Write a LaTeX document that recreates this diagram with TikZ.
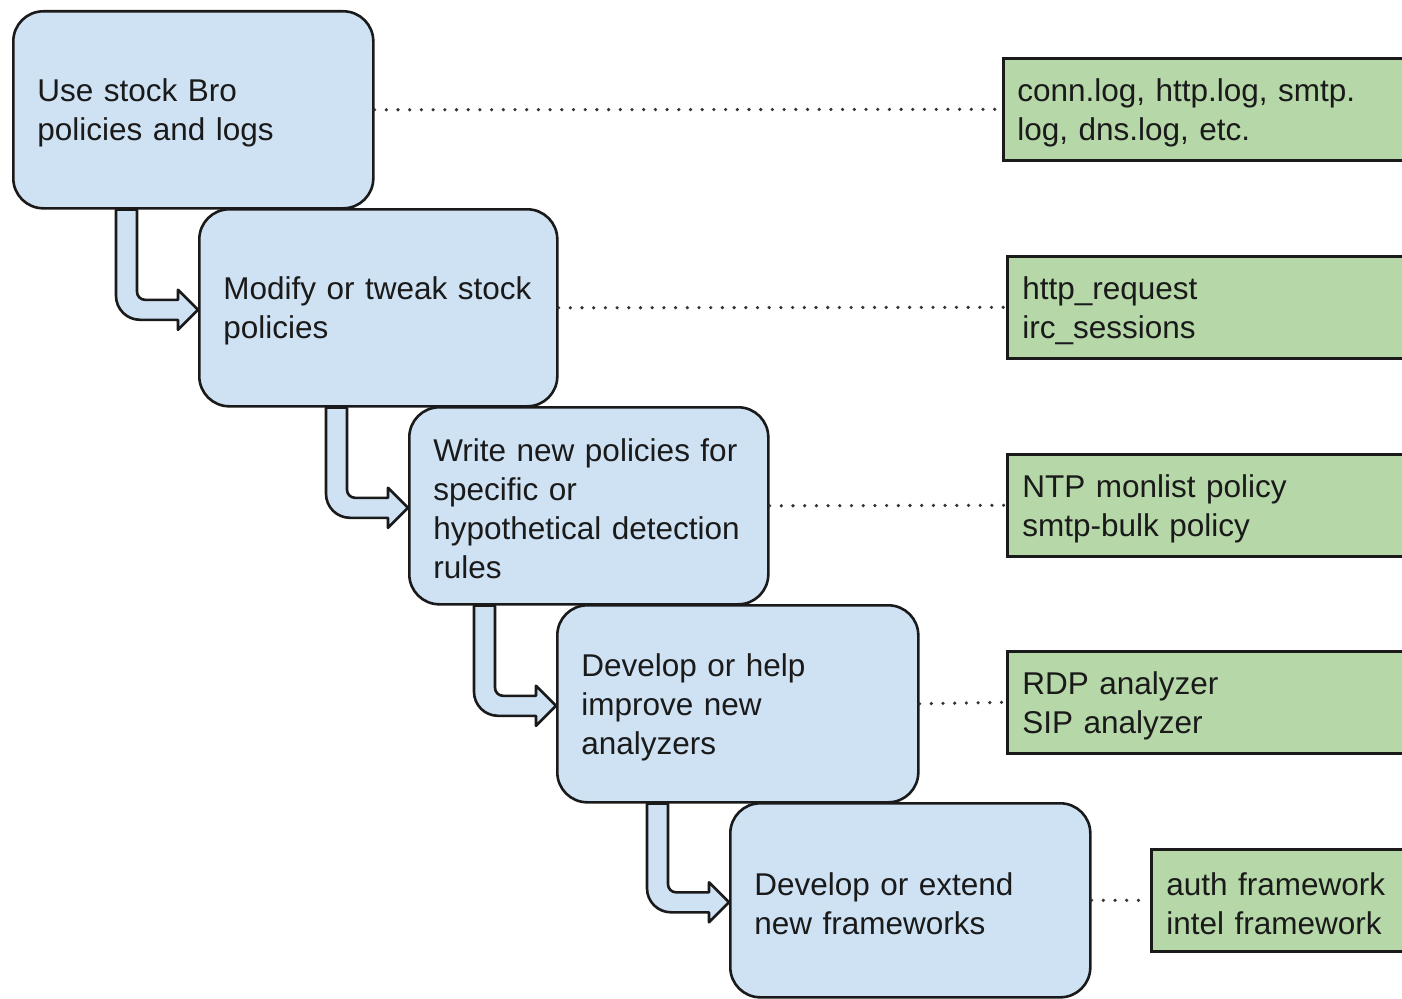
\documentclass[tikz,border=0pt]{standalone}
\usepackage{fontspec}
\setmainfont{Liberation Sans}
\usetikzlibrary{calc}
\definecolor{stepblue}{HTML}{CFE2F3}
\definecolor{exgreen}{HTML}{B6D7A8}
\definecolor{dotgray}{HTML}{333333}
\definecolor{inkblack}{HTML}{1A1A1A}
\tikzset{
  stepbox/.style={draw=inkblack, line width=2.6pt, fill=stepblue, rounded corners=30pt,
    anchor=north west, align=left, inner xsep=24pt, inner ysep=0pt, minimum height=197pt,
    font=\fontsize{31.5}{39}\selectfont, text=inkblack,
    execute at begin node={\rule{0pt}{29pt}}},
  exbox/.style={draw=inkblack, line width=2.6pt, fill=exgreen, anchor=north west,
    align=left, inner xsep=15pt, inner ysep=0pt, minimum height=102pt, text width=380pt,
    font=\fontsize{31.5}{39}\selectfont, text=inkblack,
    execute at begin node={\rule{0pt}{29pt}}},
  dotline/.style={dotgray, line width=3.6pt, line cap=round, dash pattern=on 0pt off 11.7pt},
  bentarrow/.style={draw=inkblack, line width=2.6pt, fill=stepblue, line join=round}
}
\newcommand\bentarr[2]{%
  \path[bentarrow] let \p1=(#1.south), \p2=(#2.west) in
    (\x2-61pt,\y1) -- (\x2-61pt,\y2-2pt+10pt+8pt)
    arc[start angle=180,end angle=270,radius=8pt]
    -- (\x2-20pt,\y2-2pt+10pt) -- (\x2-20pt,\y2-2pt+20pt) -- (\x2,\y2-2pt)
    -- (\x2-20pt,\y2-2pt-20pt) -- (\x2-20pt,\y2-2pt-10pt)
    -- (\x2-82pt+24pt,\y2-2pt-10pt)
    arc[start angle=270,end angle=180,radius=24pt]
    -- (\x2-82pt,\y1) -- cycle;}
\begin{document}
\begin{tikzpicture}[x=1pt,y=-1pt]
\useasboundingbox (0,0) rectangle (1402,998);
\clip (0,0) rectangle (1402,998);
% step boxes
\node[stepbox, text width=312pt] (s1) at (12,10) {Use stock Bro\\policies and logs};
\node[stepbox, text width=310pt] (s2) at (198,208) {Modify or tweak stock\\policies};
\node[stepbox, text width=311pt] (s3) at (408,406) {Write new policies for\\specific or\\hypothetical detection\\rules};
\node[stepbox, text width=313pt] (s4) at (556,604) {Develop or help\\improve new\\analyzers};
\node[stepbox, text width=312pt, minimum height=194pt] (s5) at (729,802) {Develop or extend\\new frameworks};
% bent arrows
\bentarr{s1}{s2}
\bentarr{s2}{s3}
\bentarr{s3}{s4}
\bentarr{s4}{s5}
% example boxes
\node[exbox, inner xsep=14pt] (g1) at (1002,57) {conn.log, http.log, smtp.\\log, dns.log, etc.};
\node[exbox] (g2) at (1006,255) {http\_request\\irc\_sessions};
\node[exbox] (g3) at (1006,453) {NTP monlist policy\\smtp-bulk policy};
\node[exbox] (g4) at (1006,650) {RDP analyzer\\SIP analyzer};
\node[exbox] (g5) at (1150,848) {auth framework\\intel framework};
% dotted connectors
\draw[dotline] (s1.east) -- (g1.west);
\draw[dotline] (s2.east) -- (g2.west);
\draw[dotline] (s3.east) -- (g3.west);
\draw[dotline] (s4.east) -- (g4.west);
\draw[dotline] (s5.east) -- (g5.west);
\end{tikzpicture}
\end{document}
